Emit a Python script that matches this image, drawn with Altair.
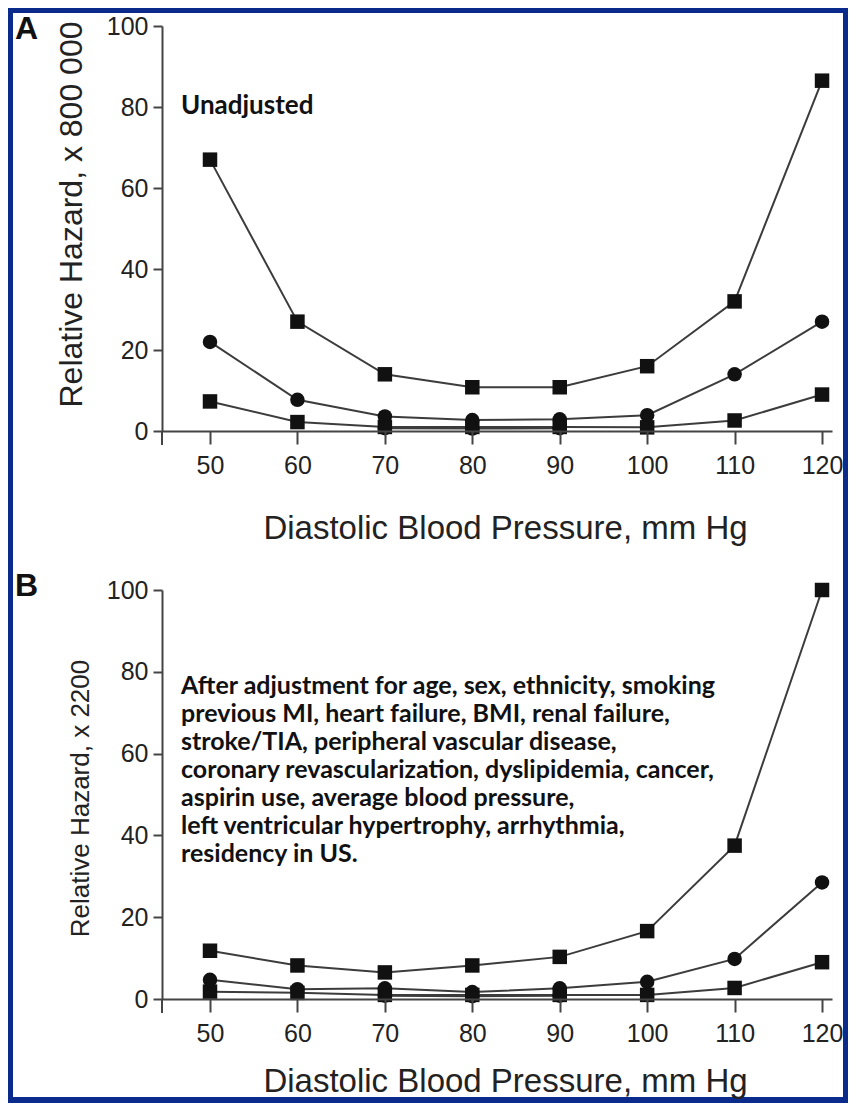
import altair as alt
import pandas as pd

# ---------------- data ----------------
dbp = [50, 60, 70, 80, 90, 100, 110, 120]
dbp_low = [70, 80, 90]

# Panel A (unadjusted, x 800 000)
a_sq_high = [67, 27, 14, 10.8, 10.8, 16, 32, 86.5]
a_circle = [22, 7.7, 3.6, 2.7, 2.9, 3.9, 14, 27]
a_sq_low = [7.3, 2.2, 1.0, 1.0, 1.0, 0.9, 2.6, 9]
a_circle_low = [0.7, 0.6, 0.7]

# Panel B (adjusted, x 2200)
b_sq_high = [11.8, 8.2, 6.5, 8.2, 10.3, 16.6, 37.5, 100]
b_circle = [4.7, 2.4, 2.6, 1.7, 2.6, 4.2, 9.8, 28.5]
b_sq_low = [1.8, 1.5, 1.0, 1.0, 1.0, 1.0, 2.7, 9]
b_circle_low = [0.8, 0.7, 0.8]

y_ticks = [0, 20, 40, 60, 80, 100]
x_ticks = [50, 60, 70, 80, 90, 100, 110, 120]

x_title = "Diastolic Blood Pressure, mm Hg"
a_y_title = "Relative Hazard, x 800 000"
b_y_title = "Relative Hazard, x 2200"
a_note = ["Unadjusted"]
b_note = [
    "After adjustment for age, sex, ethnicity, smoking",
    "previous MI, heart failure, BMI, renal failure,",
    "stroke/TIA, peripheral vascular disease,",
    "coronary revascularization, dyslipidemia, cancer,",
    "aspirin use, average blood pressure,",
    "left ventricular hypertrophy, arrhythmia,",
    "residency in US.",
]


def make_df(sq_high, circ, sq_low, circ_low):
    rows = []
    for name, xs, ys, mk in [
        ("s1", dbp, sq_high, "square"),
        ("c1", dbp, circ, "circle"),
        ("s2", dbp, sq_low, "square"),
        ("c2", dbp_low, circ_low, "circle"),
    ]:
        for x, y in zip(xs, ys):
            rows.append({"dbp": x, "hazard": y, "series": name, "marker": mk})
    return pd.DataFrame(rows)


df_a = make_df(a_sq_high, a_circle, a_sq_low, a_circle_low)
df_b = make_df(b_sq_high, b_circle, b_sq_low, b_circle_low)

# ---------------- layout constants ----------------
W = 670
HA = 405
HB = 409
AXIS_FONT = "Liberation Sans"
NOTE_FONT = "Lato"
LINE_COL = "#3c3c3c"
AXIS_COL = "#444444"
MARK_COL = "#111111"
NAVY = "#0a2a8c"


def panel(df, H, y_title, title_x, title_y, title_size, letter, letter_y,
          note, note_size, note_y, rect_top, rect_bottom, xtitle_y):
    x_enc = alt.X(
        "dbp:Q",
        scale=alt.Scale(domain=[44.51, 121.14], nice=False, zero=False),
        axis=alt.Axis(
            values=x_ticks, title=x_title, grid=False, zindex=1,
            domainColor=AXIS_COL, domainWidth=2, tickColor=AXIS_COL,
            tickWidth=2, tickSize=13, labelPadding=9,
            labelFont=AXIS_FONT, labelFontSize=25, labelColor="#222",
            titleFont=AXIS_FONT, titleFontSize=33, titleFontWeight="normal",
            titleColor="#222", titleX=343, titleY=xtitle_y,
            titleBaseline="middle", titleAlign="center",
        ),
    )
    y_enc = alt.Y(
        "hazard:Q",
        scale=alt.Scale(domain=[0, 100], nice=False),
        axis=alt.Axis(
            values=y_ticks, title=y_title, grid=False, zindex=1,
            domainColor=AXIS_COL, domainWidth=2, tickColor=AXIS_COL,
            tickWidth=2, tickSize=9, labelPadding=5,
            labelFont=AXIS_FONT, labelFontSize=25, labelColor="#222",
            titleFont=AXIS_FONT, titleFontSize=title_size,
            titleFontWeight="normal", titleColor="#222",
            titleAngle=270, titleX=title_x, titleY=title_y,
            titleBaseline="middle", titleAlign="center",
        ),
    )
    one = pd.DataFrame({"k": [0]})
    bg = alt.Chart(one).mark_rect(color="white").encode(
        x=alt.value(-149), x2=alt.value(681),
        y=alt.value(rect_top), y2=alt.value(rect_bottom),
    )
    base = alt.Chart(df)
    lines = base.mark_line(color=LINE_COL, strokeWidth=2).encode(
        x=x_enc, y=y_enc, detail="series:N"
    )
    pts = base.mark_point(filled=True, opacity=1, color=MARK_COL, size=210).encode(
        x=x_enc, y=y_enc,
        shape=alt.Shape(
            "marker:N",
            scale=alt.Scale(domain=["square", "circle"], range=["square", "circle"]),
            legend=None,
        ),
    )
    ext = alt.Chart(one).mark_rule(color=AXIS_COL, strokeWidth=2).encode(
        x=alt.value(0), y=alt.value(H), y2=alt.value(H + 14)
    )
    let = alt.Chart(one).mark_text(
        text=letter, font=AXIS_FONT, fontSize=32, fontWeight="bold",
        color="#111", align="left", baseline="top",
    ).encode(x=alt.value(-147), y=alt.value(letter_y))
    txt = alt.Chart(one).mark_text(
        text=note, font=NOTE_FONT, fontSize=note_size, fontWeight="bold",
        color="#111", align="left", baseline="top", lineHeight=28,
    ).encode(x=alt.value(19), y=alt.value(note_y))
    return alt.layer(bg, ext, lines, pts, let, txt).properties(width=W, height=H)


top = panel(df_a, HA, a_y_title, -91, 188, 32, "A", -12, a_note, 26, 67,
            -13, 531, 97)
bottom = panel(df_b, HB, b_y_title, -82, 208, 26, "B", -19, b_note, 25, 84,
               -33, 507, 82)

chart = alt.vconcat(top, bottom, spacing=159, bounds="flush").properties(
    padding=5
).configure(background=NAVY).configure_view(stroke=None)

chart.save("out.html", embed_options={"renderer": "svg", "actions": False})
